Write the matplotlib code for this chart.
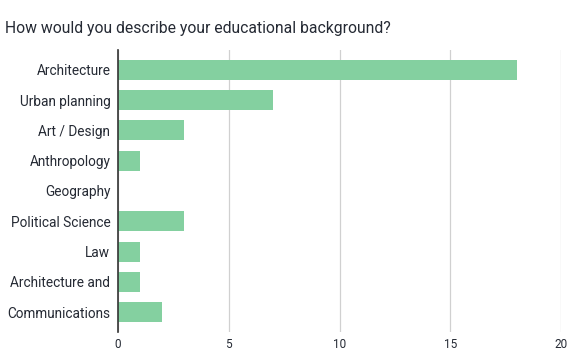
import matplotlib
matplotlib.use("Agg")
import matplotlib.pyplot as plt

# data
categories = ["Architecture", "Urban planning", "Art / Design", "Anthropology",
              "Geography", "Political Science", "Law", "Architecture and",
              "Communications"]
counts = [18, 7, 3, 1, 0, 3, 1, 1, 2]
x_ticks = [0, 5, 10, 15, 20]

plt.rcParams['font.family'] = ['Roboto', 'DejaVu Sans']
text_color = "#252a34"

fig = plt.figure(figsize=(5.8, 3.6), dpi=100)
ax = fig.add_axes([118 / 580, 28 / 360, 443 / 580, 282 / 360])

pos = list(range(len(categories)))
ax.barh(pos, counts, height=0.66, color="#84d0a0", zorder=3)

ax.set_xlim(0, 20)
ax.set_ylim(8.66, -0.66)
ax.set_xticks(x_ticks)
ax.set_xticklabels([str(t) for t in x_ticks])
ax.set_yticks(pos)
ax.set_yticklabels(categories)

ax.grid(axis="x", color="#d0d0d0", linewidth=0.9, zorder=0)
for s in ["top", "right", "bottom"]:
    ax.spines[s].set_visible(False)
ax.spines["left"].set_color("#333333")
ax.spines["left"].set_linewidth(1.2)
ax.spines["left"].set_zorder(4)

ax.tick_params(axis="y", length=0, pad=5.5, labelsize=9.8, labelcolor=text_color)
ax.tick_params(axis="x", length=0, pad=4, labelsize=8.5, labelcolor=text_color)

fig.text(5 / 580, 1 - 28 / 360, "How would you describe your educational background?",
         fontsize=11.3, color=text_color, va="center", ha="left")

fig.savefig("out.png", dpi=100, facecolor="white")
